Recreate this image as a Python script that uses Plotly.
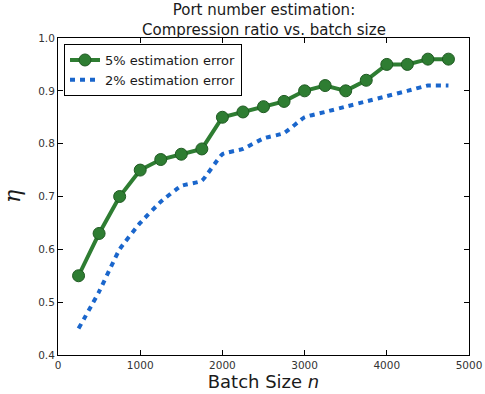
import plotly.graph_objects as go

batch_size = [250, 500, 750, 1000, 1250, 1500, 1750, 2000, 2250, 2500,
              2750, 3000, 3250, 3500, 3750, 4000, 4250, 4500, 4750]
eta_5pct = [0.55, 0.63, 0.70, 0.75, 0.77, 0.78, 0.79, 0.85, 0.86, 0.87,
            0.88, 0.90, 0.91, 0.90, 0.92, 0.95, 0.95, 0.96, 0.96]
eta_2pct = [0.45, 0.52, 0.60, 0.65, 0.69, 0.72, 0.73, 0.78, 0.79, 0.81,
            0.82, 0.85, 0.86, 0.87, 0.88, 0.89, 0.90, 0.91, 0.91]

x_ticks = [0, 1000, 2000, 3000, 4000, 5000]
y_ticks = [0.4, 0.5, 0.6, 0.7, 0.8, 0.9, 1.0]

title_lines = ["Port number estimation:", "Compression ratio vs. batch size"]

font = "DejaVu Sans"
green = "#2e7d32"
blue = "#1a66cc"

fig = go.Figure()
fig.add_trace(go.Scatter(
    x=batch_size, y=eta_5pct, mode="lines+markers",
    name="5% estimation error",
    line=dict(color=green, width=4),
    marker=dict(size=12, color=green, line=dict(color="#1f5a22", width=1)),
))
fig.add_trace(go.Scatter(
    x=batch_size, y=eta_2pct, mode="lines",
    name="2% estimation error",
    line=dict(color=blue, width=4, dash="5px,5px", shape="spline", smoothing=0.4),
))

axis_common = dict(
    showgrid=False, zeroline=False, showline=True, linecolor="black",
    linewidth=1, mirror="ticks", ticks="inside", ticklen=5, tickcolor="black",
    tickfont=dict(family=font, size=10.5, color="#333333"),
    automargin=False,
)

fig.update_layout(
    template="none",
    width=485, height=394,
    margin=dict(l=58, r=16, t=38, b=39, pad=0),
    paper_bgcolor="white", plot_bgcolor="white",
    font=dict(family=font, color="black"),
    xaxis=dict(range=[0, 5000], tickvals=x_ticks,
               ticktext=[str(v) for v in x_ticks],
               title=dict(text="Batch Size <i>n</i>", standoff=4,
                          font=dict(family=font, size=18, color="#1a1a1a")),
               **axis_common),
    yaxis=dict(range=[0.4, 1.0], tickvals=y_ticks,
               ticktext=[f"{v:.1f}" for v in y_ticks],
               title=dict(text="<i>η</i>", standoff=12,
                          font=dict(family="DejaVu Serif", size=22, color="#1a1a1a")),
               **axis_common),
    legend=dict(
        x=0.0146, y=0.981, xanchor="left", yanchor="top",
        bgcolor="white", bordercolor="black", borderwidth=1,
        font=dict(family=font, size=13, color="#1a1a1a"),
        itemwidth=30, tracegroupgap=0,
    ),
    showlegend=True,
    annotations=[dict(
        text="<br>".join(title_lines),
        xref="paper", yref="paper", x=0.5, y=1,
        xanchor="center", yanchor="middle", yshift=18.5, showarrow=False,
        font=dict(family=font, size=15, color="#1a1a1a"),
    )],
)

fig.write_html("out.html")
